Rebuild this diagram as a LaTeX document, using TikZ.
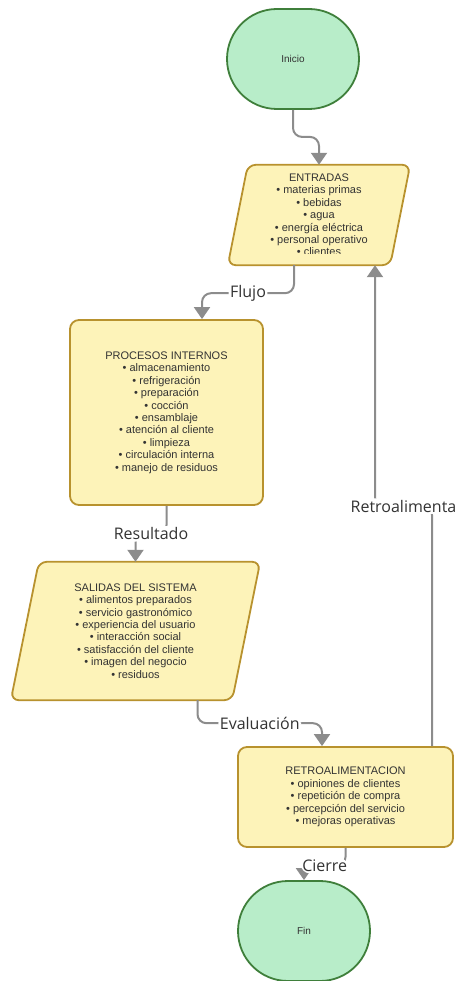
\documentclass[tikz,border=0pt]{standalone}
\usepackage{fontspec}
\setmainfont{Liberation Sans}
\newfontfamily\lblfont{Open Sans}
\usepackage{xcolor}
\usetikzlibrary{arrows.meta}
\usetikzlibrary{calc}
\usetikzlibrary{backgrounds}

\definecolor{termfill}{HTML}{B8EDC9}
\definecolor{termline}{HTML}{3F7F3B}
\definecolor{boxfill}{HTML}{FDF3B9}
\definecolor{boxline}{HTML}{B8922E}
\definecolor{flowgray}{HTML}{8C8C8C}
\definecolor{txtgray}{HTML}{333333}

\begin{document}
\begin{tikzpicture}[x=1pt,y=-1pt,
  term/.style={draw=termline,fill=termfill,line width=1.8pt,rounded corners=50pt,minimum width=132pt,minimum height=100pt,font=\fontsize{10}{12}\selectfont,text=txtgray},
  procbox/.style={draw=boxline,fill=boxfill,line width=1.8pt,rounded corners=9pt,minimum width=193pt,minimum height=185pt,align=center,font=\fontsize{11}{12.4}\selectfont,text=txtgray},
  iotext/.style={align=center,font=\fontsize{11}{12.4}\selectfont,text=txtgray},
  iobox/.style={draw=boxline,fill=boxfill,line width=1.8pt,rounded corners=8pt},
  flow/.style={draw=flowgray,line width=2pt,rounded corners=9pt,-{Triangle[width=16pt,length=12pt]}},
  lbl/.style={fill=white,inner sep=1.5pt,font=\lblfont\fontsize{16}{18}\selectfont,text=txtgray}]

\useasboundingbox (0,0) rectangle (464,981);

\node[term] (inicio) at (293,59) {Inicio};
\begin{scope}
\clip (0,0) rectangle (464,254);
\node[iotext,minimum width=162pt,minimum height=100pt] (entradas) at (319,215) {ENTRADAS\\• materias primas\\• bebidas\\• agua\\• energía eléctrica\\• personal operativo\\• clientes};
\end{scope}
\node[procbox] (procesos) at (166.5,412.5) {PROCESOS INTERNOS\\• almacenamiento\\• refrigeración\\• preparación\\• cocción\\• ensamblaje\\• atención al cliente\\• limpieza\\• circulación interna\\• manejo de residuos};
\node[iotext,minimum width=221pt,minimum height=138pt] (salidas) at (135.5,631) {SALIDAS DEL SISTEMA\\• alimentos preparados\\• servicio gastronómico\\• experiencia del usuario\\• interacción social\\• satisfacción del cliente\\• imagen del negocio\\• residuos};
\node[procbox,minimum width=215pt,minimum height=100pt] (retro) at (345.5,797) {RETROALIMENTACION\\• opiniones de clientes\\• repetición de compra\\• percepción del servicio\\• mejoras operativas};
\node[term] (fin) at (304,931) {Fin};

\begin{scope}[on background layer]
\draw[iobox] ([xshift=-10pt]entradas.south west) -- ([xshift=10pt]entradas.north west) -- ([xshift=10pt]entradas.north east) -- ([xshift=-10pt]entradas.south east) -- cycle;
\draw[iobox] ([xshift=-14pt]salidas.south west) -- ([xshift=14pt]salidas.north west) -- ([xshift=14pt]salidas.north east) -- ([xshift=-14pt]salidas.south east) -- cycle;
\end{scope}

\draw[flow] (inicio.south) -- ++(0,27) -| (entradas.north);
\draw[flow] ([xshift=-25pt]entradas.south) -- ++(0,28) -| node[lbl,pos=0.25] {Flujo} ([xshift=35.5pt]procesos.north);
\draw[flow] (procesos.south) -- ++(0,28) -| node[lbl,pos=0.25] {Resultado} (salidas.north);
\draw[flow] ([xshift=62pt]salidas.south) -- ++(0,23) -| node[lbl,pos=0.25] {Evaluación} ([xshift=-23.5pt]retro.north);
\draw[flow] ([xshift=86.5pt]retro.north) -- ++(0,-240) -| node[lbl,pos=0.25] {Retroalimenta} ([xshift=56pt]entradas.south);
\draw[flow] (retro.south) -- ++(0,18) -| node[lbl,pos=0.25] {Cierre} (fin.north);

\end{tikzpicture}
\end{document}
